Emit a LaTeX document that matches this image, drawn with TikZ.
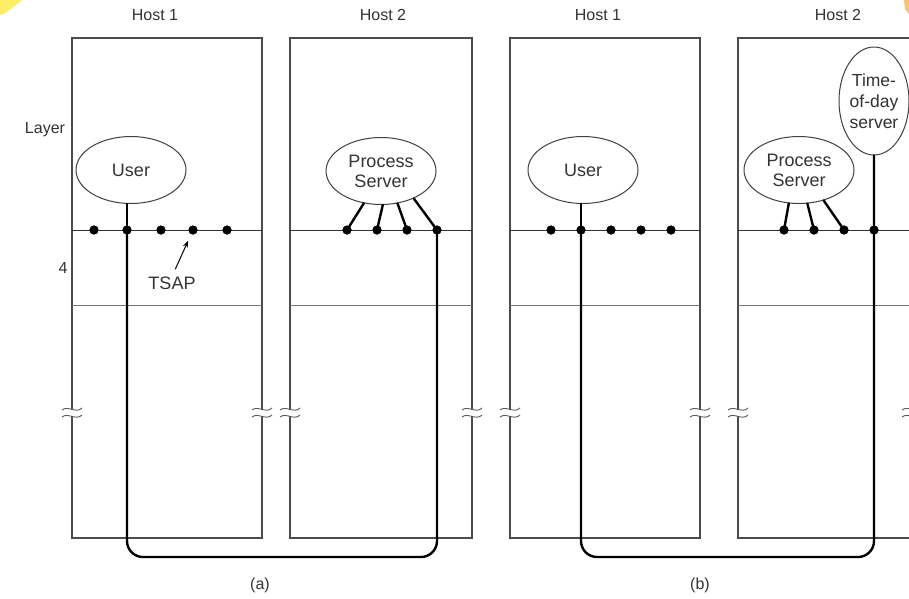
\documentclass[tikz,border=0pt]{standalone}
\usepackage{fontspec}
\setmainfont{Liberation Sans}
\usetikzlibrary{shapes.geometric,arrows.meta}
\begin{document}
\begin{tikzpicture}[x=1pt,y=-1pt,
  box/.style={draw=black!70, line width=1.2pt},
  lyr/.style={draw=black!80, line width=1pt},
  lyrb/.style={draw=black!55, line width=1pt},
  conn/.style={line width=2.4pt, line cap=round, line join=round},
  dotn/.style={circle, fill=black, inner sep=0pt, minimum size=9pt},
  proc/.style={ellipse, draw=black!75, line width=1pt, inner sep=0pt, minimum width=110pt, minimum height=67pt, font=\fontsize{18}{20}\selectfont, text=black!80, align=center},
  lbl/.style={font=\fontsize{16}{18}\selectfont, text=black!80, inner sep=0pt},
  brk/.style={draw=black!65, line width=0.9pt},
]
\useasboundingbox (0,0) rectangle (909,598);
\clip (0,0) rectangle (909,598);
\fill[white] (0,0) rectangle (909,598);

% corner artifacts
\fill[yellow!85!orange, opacity=0.6] (0,0) -- (22,0) -- (12,8) -- (4,14) -- (0,15) -- cycle;
\fill[orange!80!yellow, opacity=0.6] (904,0) -- (909,0) -- (909,14) -- (905,9) -- cycle;

% host boxes
\foreach \lx/\rx in {72/262, 290/472, 510/700, 738/912} {
  \draw[box] (\lx,38) rectangle (\rx,538);
  \draw[lyr] (\lx,230) -- (\rx,230);
  \draw[lyrb] (\lx,305) -- (\rx,305);
}

% break marks
\foreach \bx in {72,262,290,472,510,700,738,912} {
  \fill[white] (\bx-8,410) rectangle (\bx+8,416);
  \draw[brk] (\bx-10,410) .. controls (\bx-4,405) and (\bx+4,414) .. (\bx+10,408);
  \draw[brk] (\bx-10,417) .. controls (\bx-4,412) and (\bx+4,421) .. (\bx+10,415);
}

% labels
\node[lbl] (h1a) at (155,15) {Host 1};
\node[lbl] (h2a) at (383,15) {Host 2};
\node[lbl] (h1b) at (598,15) {Host 1};
\node[lbl] (h2b) at (838,15) {Host 2};
\node[lbl] (layer) at (45,130) {Layer};
\node[lbl] (four) at (63,268) {4};
\node[lbl] (capa) at (260,585) {(a)};
\node[lbl] (capb) at (700,585) {(b)};

% ===== (a) =====
\node[proc] (user) at (131,170) {User};
\node[proc] (ps) at (381,171) {Process\\Server};
\foreach \i/\x in {1/94,2/127,3/161,4/193,5/227} { \node[dotn] (ua\i) at (\x,230) {}; }
\foreach \i/\x in {1/347,2/377,3/407,4/437} { \node[dotn] (pa\i) at (\x,230) {}; }
\coordinate (ca1) at (127,557);
\coordinate (ca2) at (437,557);
\draw[conn] (user.south -| ua2) -- (ua2.center);
\draw[conn, rounded corners=16pt] (ua2.center) -- (ca1) -- (ca2) -- (pa4.center);
\draw[conn] (ps.-118) -- (pa1.center);
\draw[conn] (ps.-87) -- (pa2.center);
\draw[conn] (ps.-63) -- (pa3.center);
\draw[conn] (ps.-40) -- (pa4.center);
\foreach \i in {1,...,5} { \node[dotn] at (ua\i) {}; }
\foreach \i in {1,...,4} { \node[dotn] at (pa\i) {}; }
\node[lbl, font=\fontsize{18}{20}\selectfont] (tsap) at (172,283) {TSAP};
\draw[-{Stealth[length=7pt,width=5pt]}, line width=1pt, shorten <=8pt, shorten >=7pt] (tsap.north) -- (ua4);

% ===== (b) =====
\node[proc] (user2) at (583,170) {User};
\node[proc] (ps2) at (799,170) {Process\\Server};
\node[proc, minimum width=70pt, minimum height=108pt, font=\fontsize{17.5}{21}\selectfont] (tod) at (874,101) {Time-\\of-day\\server};
\foreach \i/\x in {1/551,2/581,3/611,4/641,5/671} { \node[dotn] (ub\i) at (\x,230) {}; }
\foreach \i/\x in {1/784,2/814,3/844,4/874} { \node[dotn] (pb\i) at (\x,230) {}; }
\coordinate (cb1) at (581,557);
\coordinate (cb2) at (874,557);
\draw[conn] (user2.south -| ub2) -- (ub2.center);
\draw[conn, rounded corners=16pt] (ub2.center) -- (cb1) -- (cb2) -- (tod.south);
\draw[conn] (ps2.-107) -- (pb1.center);
\draw[conn] (ps2.-76) -- (pb2.center);
\draw[conn] (ps2.-51) -- (pb3.center);
\foreach \i in {1,...,5} { \node[dotn] at (ub\i) {}; }
\foreach \i in {1,...,4} { \node[dotn] at (pb\i) {}; }
\end{tikzpicture}
\end{document}
